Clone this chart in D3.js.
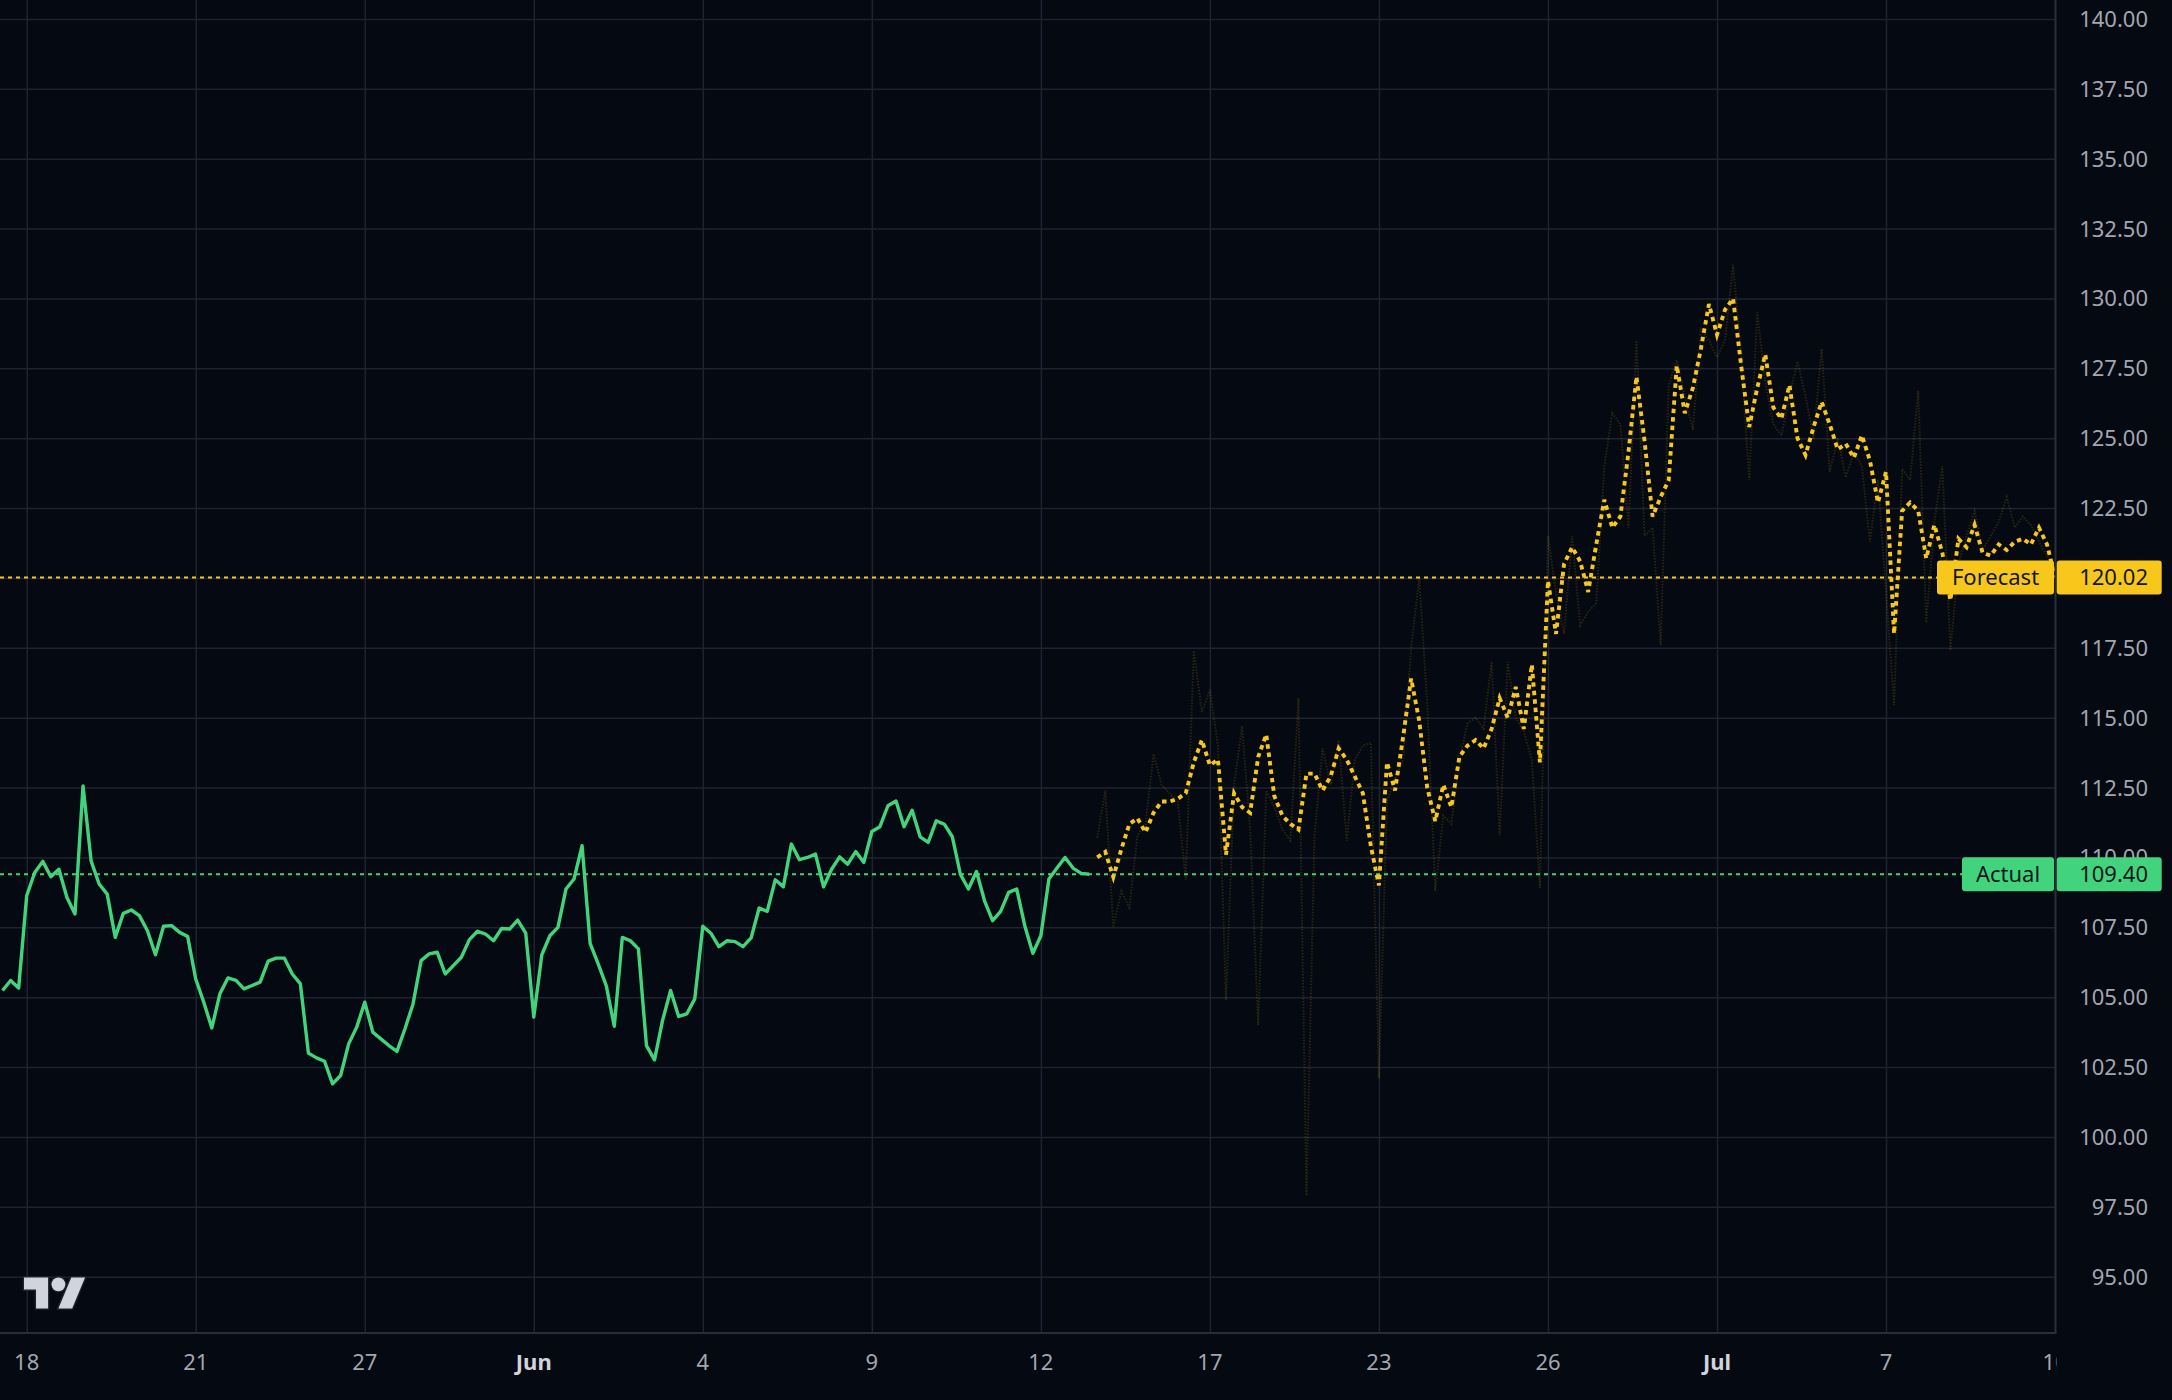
<!DOCTYPE html>
<html>
<head>
<meta charset="utf-8">
<script src="https://cdn.jsdelivr.net/npm/d3@7"></script>
<style>
  html, body { margin: 0; padding: 0; background: #050912; }
  svg { display: block; }
</style>
</head>
<body>
<script>
// actual price, one value per bar (bar 0 .. 135)
var actualValues = [
  105.24, 105.6, 105.33, 108.63, 109.46, 109.86, 109.31, 109.58, 108.57, 107.98,
  112.56, 109.88, 109.05, 108.69, 107.14, 108.0, 108.12, 107.92, 107.38, 106.52,
  107.54, 107.56, 107.32, 107.17, 105.65, 104.82, 103.9, 105.12, 105.69, 105.6,
  105.3, 105.42, 105.54, 106.29, 106.4, 106.4, 105.83, 105.48, 103.0, 102.83,
  102.71, 101.9, 102.2, 103.33, 103.93, 104.82, 103.75, 103.51, 103.27, 103.06,
  103.87, 104.76, 106.31, 106.55, 106.61, 105.83, 106.13, 106.43, 107.06, 107.36,
  107.26, 107.02, 107.46, 107.44, 107.76, 107.29, 104.29, 106.52, 107.2, 107.5,
  108.87, 109.23, 110.42, 106.93, 106.19, 105.42, 103.96, 107.14, 107.02, 106.73,
  103.27, 102.76, 104.17, 105.24, 104.31, 104.4, 104.94, 107.54, 107.29, 106.81,
  107.02, 106.99, 106.81, 107.12, 108.19, 108.07, 109.2, 108.95, 110.48, 109.92,
  110.0, 110.12, 108.95, 109.58, 110.02, 109.76, 110.21, 109.82, 110.93, 111.1,
  111.85, 112.02, 111.1, 111.69, 110.74, 110.54, 111.31, 111.19, 110.74, 109.4,
  108.87, 109.5, 108.45, 107.74, 108.07, 108.75, 108.87, 107.56, 106.57, 107.2,
  109.23, 109.62, 110.0, 109.62, 109.43, 109.4
];

// forecast, starts at bar 136
var forecastStart = 136;
var forecastValues = [
  110.0, 110.2, 109.3, 110.3, 111.2, 111.4, 110.9, 111.6, 112.0, 112.0,
  112.1, 112.3, 113.4, 114.2, 113.3, 113.5, 110.1, 112.3, 111.8, 111.6,
  113.6, 114.4, 112.2, 111.5, 111.2, 111.0, 113.0, 113.0, 112.4, 112.9,
  113.9, 113.5, 112.9, 112.3, 110.4, 109.0, 113.4, 112.4, 114.3, 116.4,
  114.9, 112.5, 111.3, 112.6, 111.8, 113.6, 114.0, 114.2, 113.9, 114.6,
  115.7, 115.0, 116.1, 114.6, 116.9, 113.4, 119.9, 118.0, 120.5, 121.1,
  120.6, 119.5, 121.2, 122.8, 121.8, 122.2, 124.5, 127.2, 124.9, 122.2,
  122.9, 123.5, 127.6, 125.9, 126.8, 128.2, 129.8, 128.7, 129.6, 130.0,
  127.6, 125.4, 126.8, 128.0, 126.1, 125.7, 126.9, 125.0, 124.4, 125.4,
  126.3, 125.5, 124.6, 124.8, 124.3, 125.1, 124.2, 122.7, 123.8, 118.0,
  122.4, 122.7, 122.4, 120.7, 121.9, 120.9, 119.2, 121.4, 121.1, 121.9,
  120.9, 120.8, 121.2, 121.0, 121.3, 121.4, 121.2, 121.8, 121.2, 120.02
];

// faint raw forecast behind the dotted one, same bars
var forecastRawValues = [
  110.7, 112.4, 107.5, 108.8, 108.2, 110.8, 111.2, 113.7, 112.6, 112.3,
  112.0, 109.2, 117.4, 115.2, 116.0, 114.0, 104.9, 112.6, 114.7, 111.0,
  104.0, 112.4, 111.8, 111.0, 110.6, 115.7, 97.9, 110.8, 113.9, 112.6,
  114.2, 110.6, 113.5, 114.0, 114.1, 102.1, 112.0, 112.8, 113.5, 117.5,
  120.0, 115.5, 108.8, 111.5, 111.2, 113.5, 114.8, 115.0, 114.6, 117.0,
  110.8, 117.0, 115.0, 114.5, 113.5, 108.9, 121.5, 119.5, 118.0, 121.5,
  118.3, 118.8, 119.1, 124.0, 125.9, 125.5, 121.8, 128.5, 121.5, 121.8,
  117.6, 126.9, 127.8, 126.5, 125.3, 128.9, 128.5, 127.9, 128.5, 131.2,
  128.0, 123.5, 129.5, 127.0, 125.5, 125.1, 126.5, 127.75, 126.5, 125.0,
  128.2, 123.8, 125.0, 123.6, 124.5, 124.0, 121.3, 123.5, 119.5, 115.45,
  123.9, 123.5, 126.7, 118.4, 122.0, 124.0, 117.4, 120.5, 121.5, 122.4,
  121.0, 121.5, 122.0, 122.9, 121.8, 122.2, 121.9, 121.3, 120.8, 120.3
];

// time axis: bar index of each tick and its label
var timeTickBars = [3, 24, 45, 66, 87, 108, 129, 150, 171, 192, 213, 234, 255];
var timeTickLabels = ["18", "21", "27", "Jun", "4", "9", "12", "17", "23", "26", "Jul", "7", "10"];
var monthLabels = ["Jun", "Jul"];

// price axis ticks
var priceTicks = [95, 97.5, 100, 102.5, 105, 107.5, 110, 112.5, 115, 117.5, 120, 122.5,
                  125, 127.5, 130, 132.5, 135, 137.5, 140];

// names shown in the axis badges
var badgeLabels = ["Forecast", "Actual"];

var chartWidth = 2172; // SVG width
var chartHeight = 1400; // SVG height
var plotRight = 2055.5; // price scale border
var plotBottom = 1333; // time scale border
var fontFamily = "'Noto Sans', 'Open Sans', 'DejaVu Sans', sans-serif";

var colors = {
  background: "#050912",
  grid: "#1f2331",
  border: "#2a2e39",
  axisText: "#a3a6af",
  monthText: "#d1d4dc",
  actual: "#42d47d",
  forecast: "#f7c81b",
  badgeText: "#131722"
};

// scales
var x = d3.scaleLinear()
  .domain([0, 255])
  .range([2.55, 2055.05]);
var y = d3.scaleLinear()
  .domain([95, 140])
  .range([1276.7, 19]);

var svg = d3.select("body").append("svg")
  .attr("width", chartWidth)
  .attr("height", chartHeight)
  .attr("xmlns", "http://www.w3.org/2000/svg")
  .attr("viewBox", [0, 0, chartWidth, chartHeight]);

// background
svg.append("rect")
  .attr("width", chartWidth)
  .attr("height", chartHeight)
  .attr("fill", colors.background);

var defs = svg.append("defs");
defs.append("clipPath").attr("id", "plot-clip")
  .append("rect")
  .attr("x", 0).attr("y", 0)
  .attr("width", plotRight).attr("height", plotBottom);
defs.append("clipPath").attr("id", "time-clip")
  .append("rect")
  .attr("x", 0).attr("y", plotBottom)
  .attr("width", plotRight + 1).attr("height", chartHeight - plotBottom);

var plot = svg.append("g").attr("clip-path", "url(#plot-clip)");

// vertical grid from the time ticks
var xAxisGrid = d3.axisBottom(x)
  .tickValues(timeTickBars)
  .tickSize(-plotBottom)
  .tickFormat("");
plot.append("g")
  .attr("transform", "translate(0," + plotBottom + ")")
  .call(xAxisGrid)
  .call(function (g) { g.select(".domain").remove(); })
  .selectAll("line")
  .attr("stroke", colors.grid)
  .attr("stroke-width", 1.5);

// horizontal grid from the price ticks
var yAxisGrid = d3.axisRight(y)
  .tickValues(priceTicks)
  .tickSize(-plotRight)
  .tickFormat("");
plot.append("g")
  .attr("transform", "translate(" + plotRight + ",0)")
  .call(yAxisGrid)
  .call(function (g) { g.select(".domain").remove(); })
  .selectAll("line")
  .attr("stroke", colors.grid)
  .attr("stroke-width", 1.5);

// TradingView logo, bottom left
var logo = svg.append("g")
  .attr("transform", "translate(24,1270.6) scale(1.72)");
logo.append("path")
  .attr("d", "M14 22H7V11H0V4h14v18zM28 22h-8l7.5-18h8L28 22z")
  .attr("fill", "#d1d4dc")
  .attr("stroke", "#1e222d")
  .attr("stroke-width", 1.6)
  .attr("paint-order", "stroke");
logo.append("circle")
  .attr("cx", 20).attr("cy", 8).attr("r", 4)
  .attr("fill", "#d1d4dc")
  .attr("stroke", "#1e222d")
  .attr("stroke-width", 1.6)
  .attr("paint-order", "stroke");

var line = d3.line()
  .x(function (d) { return x(d.i); })
  .y(function (d) { return y(d.v); });

var actualPoints = actualValues.map(function (v, i) { return { i: i, v: v }; });
var forecastPoints = forecastValues.map(function (v, i) { return { i: forecastStart + i, v: v }; });
var rawPoints = forecastRawValues.map(function (v, i) { return { i: forecastStart + i, v: v }; });

// faint raw forecast
plot.append("path")
  .datum(rawPoints)
  .attr("d", line)
  .attr("fill", "none")
  .attr("stroke", colors.forecast)
  .attr("stroke-opacity", 0.15)
  .attr("stroke-width", 2)
  .attr("stroke-dasharray", "1.5,1.5");

// last value lines
var lastForecast = forecastValues[forecastValues.length - 1];
var lastActual = actualValues[actualValues.length - 1];
plot.append("line")
  .attr("x1", 0).attr("x2", 1937)
  .attr("y1", y(lastForecast)).attr("y2", y(lastForecast))
  .attr("stroke", colors.forecast)
  .attr("stroke-width", 2)
  .attr("stroke-dasharray", "4,4");
plot.append("line")
  .attr("x1", 0).attr("x2", 1962)
  .attr("y1", y(lastActual)).attr("y2", y(lastActual))
  .attr("stroke", colors.actual)
  .attr("stroke-width", 2)
  .attr("stroke-dasharray", "4,4");

// actual line
plot.append("path")
  .datum(actualPoints)
  .attr("d", line)
  .attr("fill", "none")
  .attr("stroke", colors.actual)
  .attr("stroke-width", 3.4)
  .attr("stroke-linejoin", "round");

// forecast dotted line
plot.append("path")
  .datum(forecastPoints)
  .attr("d", line)
  .attr("fill", "none")
  .attr("stroke", colors.forecast)
  .attr("stroke-width", 3.9)
  .attr("stroke-dasharray", "4.5,4");

// price axis labels
svg.append("g")
  .selectAll("text")
  .data(priceTicks)
  .enter()
  .append("text")
  .attr("x", 2148)
  .attr("y", function (d) { return y(d); })
  .attr("dy", "0.36em")
  .attr("text-anchor", "end")
  .attr("font-family", fontFamily)
  .attr("font-size", 22)
  .attr("fill", colors.axisText)
  .text(function (d) { return d.toFixed(2); });

// time axis labels
svg.append("g")
  .attr("clip-path", "url(#time-clip)")
  .selectAll("text")
  .data(timeTickBars)
  .enter()
  .append("text")
  .attr("x", function (d) { return x(d); })
  .attr("y", 1370)
  .attr("text-anchor", "middle")
  .attr("font-family", fontFamily)
  .attr("font-size", 22)
  .attr("font-weight", function (d, i) { return monthLabels.indexOf(timeTickLabels[i]) >= 0 ? "bold" : "normal"; })
  .attr("fill", function (d, i) { return monthLabels.indexOf(timeTickLabels[i]) >= 0 ? colors.monthText : colors.axisText; })
  .text(function (d, i) { return timeTickLabels[i]; });

// borders of the price and time scales
svg.append("line")
  .attr("x1", plotRight).attr("x2", plotRight)
  .attr("y1", 0).attr("y2", plotBottom)
  .attr("stroke", colors.border)
  .attr("stroke-width", 2);
svg.append("line")
  .attr("x1", 0).attr("x2", plotRight + 1)
  .attr("y1", plotBottom).attr("y2", plotBottom)
  .attr("stroke", colors.border)
  .attr("stroke-width", 2);

// badges: name on the plot side, value on the price scale
var badges = [
  { name: badgeLabels[0], value: lastForecast, color: colors.forecast, left: 1937 },
  { name: badgeLabels[1], value: lastActual, color: colors.actual, left: 1962 }
];
var badge = svg.append("g")
  .selectAll("g")
  .data(badges)
  .enter()
  .append("g");
badge.append("rect")
  .attr("x", function (d) { return d.left; })
  .attr("y", function (d) { return y(d.value) - 17; })
  .attr("width", function (d) { return 2054 - d.left; })
  .attr("height", 34)
  .attr("rx", 3)
  .attr("fill", function (d) { return d.color; });
badge.append("text")
  .attr("x", function (d) { return (d.left + 2054) / 2; })
  .attr("y", function (d) { return y(d.value); })
  .attr("dy", "0.36em")
  .attr("text-anchor", "middle")
  .attr("font-family", fontFamily)
  .attr("font-size", 22)
  .attr("fill", colors.badgeText)
  .text(function (d) { return d.name; });
badge.append("rect")
  .attr("x", 2056.7)
  .attr("y", function (d) { return y(d.value) - 17; })
  .attr("width", 105)
  .attr("height", 34)
  .attr("rx", 3)
  .attr("fill", function (d) { return d.color; });
badge.append("text")
  .attr("x", 2148)
  .attr("y", function (d) { return y(d.value); })
  .attr("dy", "0.36em")
  .attr("text-anchor", "end")
  .attr("font-family", fontFamily)
  .attr("font-size", 22)
  .attr("fill", colors.badgeText)
  .text(function (d) { return d.value.toFixed(2); });
</script>
</body>
</html>
